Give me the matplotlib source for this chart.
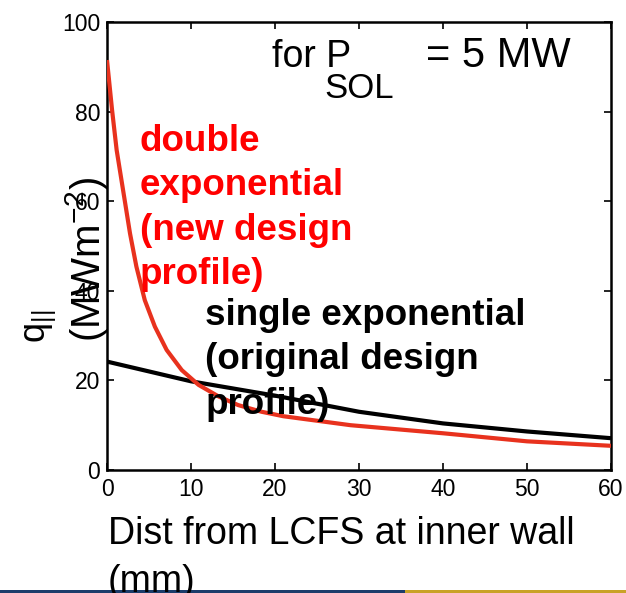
import numpy as np
import matplotlib
matplotlib.use("Agg")
import matplotlib.pyplot as plt
from matplotlib.patches import Rectangle

plt.rcParams["font.family"] = ["Liberation Sans", "DejaVu Sans"]
plt.rcParams["mathtext.default"] = "regular"

# values
dist_double = [0, 0.6, 1.15, 2.1, 2.74, 3.5, 4.5, 5.7, 7.1, 8.9, 10.9, 13.3, 15.6, 18.4,
               21, 29, 40, 50, 60]
q_double = [91.5, 80.4, 71.4, 60.3, 52.8, 45.4, 37.9, 32.0, 26.8, 22.3, 19.0, 16.4, 14.5, 13.0,
            12.0, 10.0, 8.2, 6.4, 5.4]

dist_single = [0, 10, 20, 30, 40, 50, 60]
q_single = [24.2, 19.8, 16.6, 13.0, 10.4, 8.6, 7.1]

xticks = [0, 10, 20, 30, 40, 50, 60]
yticks = [0, 20, 40, 60, 80, 100]

fig = plt.figure(figsize=(6.26, 5.93), dpi=100)
ax = fig.add_axes([107/626, 1 - 470/593, 504/626, 448/593])

ax.plot(dist_single, q_single, color="black", lw=3, solid_capstyle="butt", zorder=3)
ax.plot(dist_double, q_double, color="#e8321e", lw=3, solid_joinstyle="round",
        solid_capstyle="butt", zorder=4)

ax.set_xlim(0, 60)
ax.set_ylim(0, 100)
ax.set_xticks(xticks)
ax.set_yticks(yticks)
ax.tick_params(direction="in", top=True, right=True, length=5, width=1.2, labelsize=16.5)
ax.tick_params(axis="x", pad=6)
ax.tick_params(axis="y", pad=5)
for s in ax.spines.values():
    s.set_linewidth(1.8)

# "for P_SOL = 5 MW" built from pieces so the subscript can sit low and large
ax.text(19.6, 89.9, "for P", fontsize=27, va="baseline", ha="left")
ax.text(25.9, 83.0, "SOL", fontsize=25, va="baseline", ha="left")
ax.text(38.0, 89.9, "= 5 MW", fontsize=30, va="baseline", ha="left")

ax.text(3.9, 77.3, "double\nexponential\n(new design\nprofile)", color="red",
        fontsize=26.5, fontweight="bold", va="top", ha="left", linespacing=1.35, zorder=5)
ax.text(11.7, 38.4, "single exponential\n(original design\nprofile)", color="black",
        fontsize=26.5, fontweight="bold", va="top", ha="left", linespacing=1.35, zorder=5)

fig.text(108/626, 1 - 516/593, "Dist from LCFS at inner wall\n(mm)", fontsize=27,
         ha="left", va="top", linespacing=1.42)
fig.text(40/626, 1 - 343/593, "$q_{||}$", fontsize=26, rotation=90,
         ha="center", va="bottom")
fig.text(86/626, 1 - 342/593, "(MWm$^{-2}$)", fontsize=29, rotation=90,
         ha="center", va="bottom")

fig.add_artist(Rectangle((0, 0), 405/626, 3/593, transform=fig.transFigure,
                         color="#1c3d6b", lw=0))
fig.add_artist(Rectangle((405/626, 0), 221/626, 3/593, transform=fig.transFigure,
                         color="#c9a227", lw=0))

fig.savefig("out.png", dpi=100)
